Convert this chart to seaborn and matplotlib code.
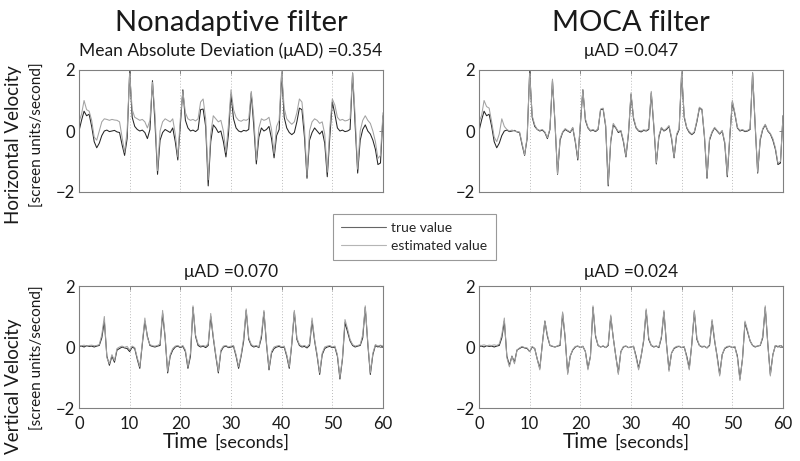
import numpy as np
import matplotlib
matplotlib.use('Agg')
import matplotlib.pyplot as plt
import seaborn as sns
from matplotlib.lines import Line2D

# time axis, one sample every 0.5 s
time_s = np.linspace(0, 60, 121)

# horizontal velocity [screen units/second]
h_true = [0.0, 0.35, 0.65, 0.5, 0.55, 0.15, -0.35, -0.55, -0.4, -0.15,
          0.0, 0.03, -0.02, 0.0, 0.02, -0.03, -0.05, -0.45, -0.8, -0.25,
          1.95, 0.45, 0.15, 0.05, 0.0, 0.03, -0.05, -0.25, 0.05, 1.65,
          0.25, -1.42, -0.3, -0.05, 0.05, 0.0, -0.05, 0.1, -0.35, -0.95,
          0.2, 1.35, 0.35, 0.1, 0.0, 0.03, -0.02, 0.05, 0.7, 0.72,
          0.15, -1.8, -0.35, 0.2, 0.1, -0.05, 0.0, -0.35, -0.85, -0.1,
          1.2, 0.4, 0.1, 0.0, -0.03, 0.02, 0.0, 0.05, 1.25, 0.15,
          -1.08, -0.2, 0.1, 0.0, 0.05, 0.15, -0.25, -0.88, -0.15, 0.05,
          1.9, 0.45, 0.1, -0.05, -0.12, -0.05, 0.3, 0.75, 0.7, -0.2,
          -1.55, -0.3, -0.05, 0.1, 0.0, -0.1, 0.0, -0.4, -1.5, -0.2,
          0.95, 0.55, 0.1, 0.0, 0.03, -0.02, 0.0, 0.05, 1.9, 0.2,
          -1.38, -0.3, 0.05, 0.2, 0.0, -0.1, -0.3, -0.6, -1.1, -1.05,
          0.5]
h_nonadaptive = [0.3, 0.55, 1.0, 0.7, 0.65, 0.35, -0.2, -0.3, 0.0, 0.3,
                 0.4, 0.38, 0.35, 0.38, 0.36, 0.35, 0.3, -0.2, -0.7, 0.0,
                 1.9, 0.7, 0.45, 0.4, 0.35, 0.38, 0.3, 0.1, 0.35, 1.6,
                 0.55, -1.3, 0.0, 0.3, 0.4, 0.35, 0.3, 0.4, -0.1, -0.85,
                 0.4, 1.3, 0.6, 0.4, 0.35, 0.38, 0.33, 0.4, 0.95, 1.05,
                 0.4, -1.6, -0.1, 0.5, 0.4, 0.3, 0.35, 0.0, -0.7, 0.2,
                 1.35, 0.7, 0.45, 0.35, 0.32, 0.37, 0.35, 0.4, 1.3, 0.45,
                 -0.95, 0.1, 0.4, 0.35, 0.38, 0.45, 0.05, -0.75, 0.15, 0.35,
                 1.95, 0.75, 0.4, 0.3, 0.22, 0.3, 0.6, 1.05, 0.95, 0.1,
                 -1.45, 0.0, 0.3, 0.4, 0.35, 0.25, 0.3, -0.1, -1.35, 0.1,
                 1.05, 0.85, 0.45, 0.35, 0.38, 0.33, 0.35, 0.4, 1.9, 0.5,
                 -1.25, 0.0, 0.35, 0.5, 0.35, 0.25, 0.0, -0.35, -0.9, -0.8,
                 0.6]
h_moca = [0.3, 0.5, 1.0, 0.8, 0.75, 0.3, -0.2, -0.35, -0.1, 0.4,
          0.15, 0.05, 0.0, 0.03, 0.0, -0.02, -0.03, -0.4, -0.78, -0.2,
          1.9, 0.5, 0.2, 0.05, 0.02, 0.05, -0.03, -0.22, 0.08, 1.7,
          0.3, -1.4, -0.25, -0.03, 0.08, 0.02, -0.03, 0.12, -0.3, -0.9,
          0.25, 1.35, 0.4, 0.12, 0.02, 0.05, 0.0, 0.08, 0.72, 0.75,
          0.2, -1.75, -0.3, 0.25, 0.12, -0.02, 0.02, -0.3, -0.82, -0.05,
          1.25, 0.45, 0.12, 0.02, 0.0, 0.04, 0.02, 0.08, 1.3, 0.2,
          -1.05, -0.15, 0.12, 0.02, 0.08, 0.18, -0.2, -0.85, -0.1, 0.08,
          1.95, 0.5, 0.12, -0.02, -0.1, -0.02, 0.35, 0.78, 0.72, -0.15,
          -1.5, -0.25, -0.02, 0.12, 0.02, -0.08, 0.02, -0.35, -1.45, -0.15,
          1.0, 0.6, 0.12, 0.02, 0.05, 0.0, 0.02, 0.08, 1.92, 0.25,
          -1.35, -0.25, 0.08, 0.22, 0.02, -0.08, -0.25, -0.55, -1.05, -1.0,
          0.5]

# vertical velocity [screen units/second]
v_true = [0.02, 0.03, 0.0, 0.04, 0.02, 0.03, 0.0, 0.03, 0.05, 0.3,
          0.85, -0.3, -0.6, -0.3, -0.5, -0.1, -0.05, 0.0, -0.03, -0.05,
          -0.15, 0.0, -0.05, -0.4, -0.7, 0.1, 0.85, 0.35, 0.05, 0.02,
          0.0, 0.03, 0.05, 1.1, 0.3, -0.85, -0.3, -0.1, 0.0, 0.03,
          -0.02, 0.02, -0.15, -0.7, -0.3, 1.3, 0.35, 0.05, 0.0, 0.03,
          -0.02, 0.05, 1.0, 0.3, -0.3, -0.85, -0.15, 0.0, 0.03, -0.02,
          0.0, 0.02, -0.3, -0.7, -0.3, 0.2, 1.2, 0.25, 0.05, 0.0,
          0.03, -0.02, 0.3, 1.15, 0.1, -0.75, -0.2, -0.05, 0.0, 0.02,
          -0.02, 0.0, -0.3, -0.7, 0.1, 1.15, 0.25, 0.05, 0.0, 0.02,
          -0.03, 0.05, 0.85, 0.2, -0.3, -0.9, -0.25, -0.05, 0.0, 0.02,
          -0.02, 0.0, -0.3, -1.05, -0.4, 0.8, 0.5, 0.2, 0.05, 0.0,
          0.03, 0.05, 0.3, 1.3, 0.1, -0.9, -0.25, 0.05, 0.0, 0.05,
          0.0]
v_nonadaptive = [0.05, 0.04, 0.06, 0.03, 0.05, 0.06, 0.04, 0.05, 0.08, 0.4,
                 1.0, -0.35, -0.55, -0.25, -0.45, -0.05, 0.0, 0.03, -0.01, 0.02,
                 -0.1, 0.03, -0.02, -0.35, -0.65, 0.15, 0.95, 0.3, 0.08, 0.04,
                 0.03, 0.05, 0.1, 1.2, 0.35, -0.8, -0.25, -0.05, 0.03, 0.05,
                 0.0, 0.05, -0.1, -0.65, -0.2, 1.35, 0.4, 0.1, 0.03, 0.05,
                 0.02, 0.1, 1.1, 0.35, -0.25, -0.8, -0.1, 0.03, 0.05, 0.0,
                 0.03, 0.05, -0.25, -0.65, -0.25, 0.3, 1.25, 0.3, 0.08, 0.03,
                 0.05, 0.0, 0.4, 1.2, 0.15, -0.7, -0.15, 0.0, 0.03, 0.05,
                 0.0, 0.03, -0.25, -0.65, 0.15, 1.2, 0.3, 0.08, 0.03, 0.05,
                 0.0, 0.1, 0.95, 0.25, -0.25, -0.85, -0.2, 0.0, 0.03, 0.05,
                 0.0, 0.03, -0.25, -1.0, -0.35, 0.9, 0.6, 0.25, 0.08, 0.03,
                 0.05, 0.08, 0.4, 1.35, 0.15, -0.85, -0.2, 0.08, 0.03, 0.06,
                 0.03]
v_moca = [0.06, 0.05, 0.07, 0.04, 0.06, 0.05, 0.07, 0.05, 0.1, 0.4,
          0.95, -0.35, -0.65, -0.3, -0.55, -0.1, -0.03, 0.02, -0.02, -0.03,
          -0.15, 0.02, -0.05, -0.4, -0.75, 0.1, 0.85, 0.4, 0.05, 0.03,
          0.0, 0.04, 0.08, 1.15, 0.35, -0.9, -0.3, -0.08, 0.02, 0.03,
          -0.02, 0.03, -0.15, -0.75, -0.3, 1.35, 0.4, 0.05, 0.0, 0.04,
          -0.02, 0.08, 1.05, 0.3, -0.3, -0.9, -0.15, 0.02, 0.03, -0.02,
          0.0, 0.03, -0.35, -0.75, -0.3, 0.25, 1.25, 0.3, 0.05, 0.02,
          0.03, 0.0, 0.35, 1.2, 0.1, -0.8, -0.2, -0.03, 0.02, 0.03,
          -0.02, 0.02, -0.35, -0.75, 0.1, 1.2, 0.3, 0.05, 0.02, 0.03,
          -0.03, 0.08, 0.9, 0.25, -0.35, -0.95, -0.25, -0.03, 0.02, 0.03,
          -0.02, 0.02, -0.35, -1.1, -0.4, 0.85, 0.55, 0.2, 0.05, 0.02,
          0.03, 0.06, 0.35, 1.35, 0.1, -0.95, -0.25, 0.05, 0.02, 0.05,
          0.0]

col_titles = ['Nonadaptive filter', 'MOCA filter']
panel_titles = ['Mean Absolute Deviation (μAD) =0.354', 'μAD =0.047',
                'μAD =0.070', 'μAD =0.024']

sns.set_style('white')
plt.rcParams['font.family'] = ['Lato', 'DejaVu Sans']

TRUE_COLOR = '#262626'
EST_COLOR = '#a2a2a2'
TEXT_COLOR = '#1a1a1a'
W, H = 800, 461

fig = plt.figure(figsize=(8, 4.61), dpi=100)


def px_axes(left, top, right, bottom):
    return fig.add_axes([left / W, 1 - bottom / H, (right - left) / W, (bottom - top) / H])


# left, top, right, bottom (px), series, title, title y (px), tick labels on x
panels = [
    (79, 70, 383, 192, h_true, h_nonadaptive, panel_titles[0], 51, False),
    (479, 70, 783, 192, h_true, h_moca, panel_titles[1], 51, False),
    (79, 286, 383, 408, v_true, v_nonadaptive, panel_titles[2], 272, True),
    (479, 286, 783, 408, v_true, v_moca, panel_titles[3], 272, True),
]

for left, top, right, bottom, true_v, est_v, title, title_y, xlab in panels:
    ax = px_axes(left, top, right, bottom)
    for x in range(10, 60, 10):
        ax.axvline(x, color='#a5a5a5', ls=(0, (1, 2.5)), lw=0.6, zorder=0)
    sns.lineplot(x=time_s, y=true_v, ax=ax, color=TRUE_COLOR, lw=0.75, estimator=None)
    sns.lineplot(x=time_s, y=est_v, ax=ax, color=EST_COLOR, lw=0.75, estimator=None)
    ax.set_xlim(0, 60)
    ax.set_ylim(-2, 2)
    ax.set_yticks([-2, 0, 2])
    ax.set_yticklabels(['\u22122', '0', '2'])
    ax.set_xticks(range(0, 61, 10))
    if not xlab:
        ax.set_xticklabels([])
    ax.set_xlabel('')
    ax.set_ylabel('')
    ax.tick_params(direction='in', length=3, width=0.6, top=True, right=True,
                   labelsize=12, color='#777777', labelcolor=TEXT_COLOR)
    ax.tick_params(axis='x', pad=6)
    ax.tick_params(axis='y', pad=3)
    for sp in ax.spines.values():
        sp.set_color('#808080')
        sp.set_linewidth(0.8)
    fig.text((left + right) / 2 / W, 1 - title_y / H, title, ha='center', va='center',
             fontsize=12.5, color=TEXT_COLOR)

# column headings
fig.text(231 / W, 1 - 23 / H, col_titles[0], ha='center', va='center', fontsize=21, color=TEXT_COLOR)
fig.text(631 / W, 1 - 23 / H, col_titles[1], ha='center', va='center', fontsize=21, color=TEXT_COLOR)

# row labels
fig.text(14 / W, 1 - 145 / H, 'Horizontal Velocity', rotation=90, ha='center', va='center',
         fontsize=13.5, color=TEXT_COLOR)
fig.text(38 / W, 1 - 135 / H, '[screen units/second]', rotation=90, ha='center', va='center',
         fontsize=11, color=TEXT_COLOR)
fig.text(14 / W, 1 - 386 / H, 'Vertical Velocity', rotation=90, ha='center', va='center',
         fontsize=13.5, color=TEXT_COLOR)
fig.text(38 / W, 1 - 358 / H, '[screen units/second]', rotation=90, ha='center', va='center',
         fontsize=11, color=TEXT_COLOR)

# x labels
for off in (0, 400):
    fig.text((208 + off) / W, 1 - 442 / H, 'Time', ha='right', va='center', fontsize=15, color=TEXT_COLOR)
    fig.text((214 + off) / W, 1 - 443 / H, '[seconds]', ha='left', va='center', fontsize=13, color=TEXT_COLOR)

handles = [Line2D([], [], color='#666666', lw=0.8), Line2D([], [], color='#b5b5b5', lw=0.8)]
leg = fig.legend(handles, ['true value', 'estimated value'], loc='upper left',
                 bbox_to_anchor=(333 / W, 1 - 214 / H), borderaxespad=0, fontsize=10,
                 frameon=True, fancybox=False, handlelength=3.2, handletextpad=0.4,
                 borderpad=0.6, labelspacing=0.4)
leg.get_frame().set_edgecolor('#808080')
leg.get_frame().set_linewidth(0.8)

fig.savefig('out.png', dpi=100)
